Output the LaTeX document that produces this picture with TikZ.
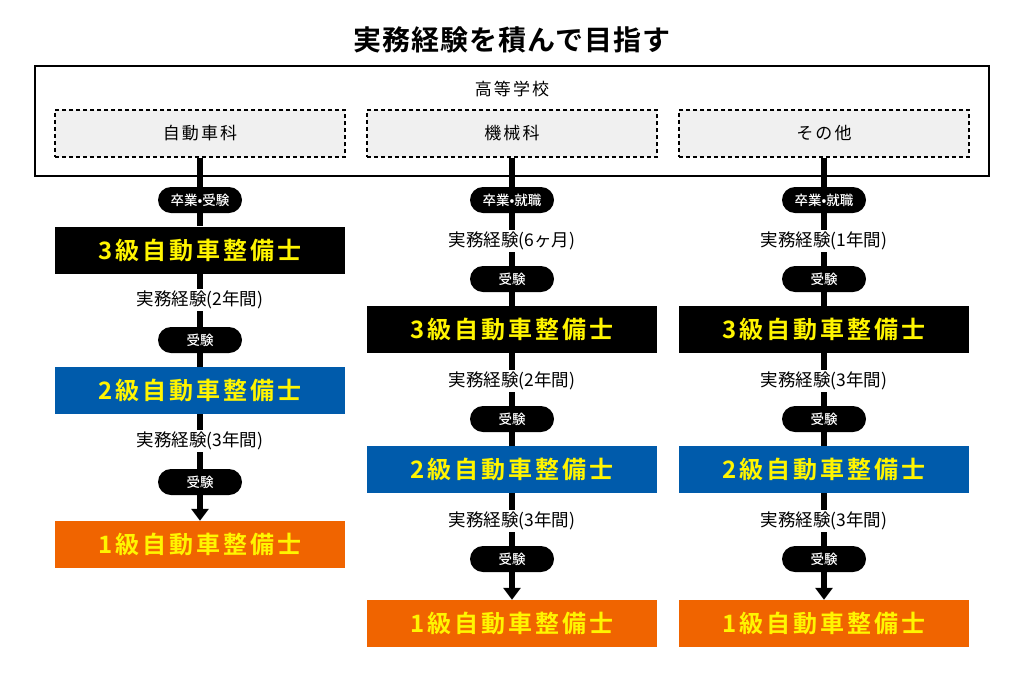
\documentclass[tikz,border=0pt]{standalone}
\usepackage{fontspec}
\setmainfont{Noto Sans CJK JP}
\newfontfamily\boxfont{Noto Sans CJK JP Bold}[LetterSpace=12]
\newfontfamily\titlefont{Noto Sans CJK JP Bold}[LetterSpace=4]
\newfontfamily\spfont{Noto Sans CJK JP}[LetterSpace=12]
\newfontfamily\pillfont{Noto Sans CJK JP Medium}
\usetikzlibrary{arrows.meta}
\definecolor{certblue}{HTML}{005BAB}
\definecolor{certorange}{HTML}{F06400}
\definecolor{certyellow}{HTML}{FFF500}
\definecolor{lightgray}{HTML}{F0F0F0}
\tikzset{
  pill/.style={fill=black, text=white, rounded corners=13pt, minimum width=84pt, minimum height=26pt, inner sep=0pt, font=\pillfont\fontsize{13.5}{13.5}\selectfont},
  certbox/.style={minimum width=290pt, minimum height=47pt, inner sep=0pt, text=certyellow, font=\boxfont\fontsize{24}{24}\selectfont},
  lv3/.style={certbox, fill=black},
  lv2/.style={certbox, fill=certblue},
  lv1/.style={certbox, fill=certorange},
  exper/.style={inner sep=2pt, font=\fontsize{17.5}{18}\selectfont},
  course/.style={draw=black, fill=lightgray, line width=1.5pt, dash pattern=on 4pt off 3pt, minimum width=290pt, minimum height=47pt, inner sep=0pt, font=\spfont\fontsize{17}{17}\selectfont},
  conn/.style={line width=6pt, black},
  arr/.style={conn, -{Triangle[width=17pt,length=12pt]}}
}
\begin{document}
\begin{tikzpicture}[x=1pt,y=-1pt]
\useasboundingbox (0,0) rectangle (1024,683);
\node[font=\titlefont\fontsize{28}{28}\selectfont] (title) at (512,40) {実務経験を積んで目指す};
\node[draw=black, line width=2pt, minimum width=954pt, minimum height=110pt, inner sep=0pt] (school) at (512,121) {};
\node[font=\spfont\fontsize{17}{17}\selectfont] (schoollbl) at (512,89) {高等学校};
\node[course] (c1) at (200,133.5) {自動車科};
\node[course] (c2) at (512,133.5) {機械科};
\node[course] (c3) at (824,133.5) {その他};

% column 1
\node[pill] (a1) at (200,200) {卒業•受験};
\node[lv3] (a2) at (200,250) {3級自動車整備士};
\node[exper] (a3) at (200,300) {実務経験(2年間)};
\node[pill] (a4) at (200,340) {受験};
\node[lv2] (a5) at (200,390.5) {2級自動車整備士};
\node[exper] (a6) at (200,441) {実務経験(3年間)};
\node[pill] (a7) at (200,482) {受験};
\node[lv1] (a8) at (200,544.5) {1級自動車整備士};

% column 2
\node[pill] (b1) at (512,200) {卒業•就職};
\node[exper] (b2) at (512,241) {実務経験(6ヶ月)};
\node[pill] (b3) at (512,279) {受験};
\node[lv3] (b4) at (512,329.5) {3級自動車整備士};
\node[exper] (b5) at (512,381) {実務経験(2年間)};
\node[pill] (b6) at (512,419) {受験};
\node[lv2] (b7) at (512,469.5) {2級自動車整備士};
\node[exper] (b8) at (512,521) {実務経験(3年間)};
\node[pill] (b9) at (512,559) {受験};
\node[lv1] (b10) at (512,623.5) {1級自動車整備士};

% column 3
\node[pill] (d1) at (824,200) {卒業•就職};
\node[exper] (d2) at (824,241) {実務経験(1年間)};
\node[pill] (d3) at (824,279) {受験};
\node[lv3] (d4) at (824,329.5) {3級自動車整備士};
\node[exper] (d5) at (824,381) {実務経験(3年間)};
\node[pill] (d6) at (824,419) {受験};
\node[lv2] (d7) at (824,469.5) {2級自動車整備士};
\node[exper] (d8) at (824,521) {実務経験(3年間)};
\node[pill] (d9) at (824,559) {受験};
\node[lv1] (d10) at (824,623.5) {1級自動車整備士};

% connectors
\draw[conn] (c1.south) -- (a1.north);
\draw[conn] (a1.south) -- (a2.north);
\draw[conn] (a2.south) -- (a3.north);
\draw[conn] (a3.south) -- (a4.north);
\draw[conn] (a4.south) -- (a5.north);
\draw[conn] (a5.south) -- (a6.north);
\draw[conn] (a6.south) -- (a7.north);
\draw[arr] (a7.south) -- (a8.north);

\draw[conn] (c2.south) -- (b1.north);
\draw[conn] (b1.south) -- (b2.north);
\draw[conn] (b2.south) -- (b3.north);
\draw[conn] (b3.south) -- (b4.north);
\draw[conn] (b4.south) -- (b5.north);
\draw[conn] (b5.south) -- (b6.north);
\draw[conn] (b6.south) -- (b7.north);
\draw[conn] (b7.south) -- (b8.north);
\draw[conn] (b8.south) -- (b9.north);
\draw[arr] (b9.south) -- (b10.north);

\draw[conn] (c3.south) -- (d1.north);
\draw[conn] (d1.south) -- (d2.north);
\draw[conn] (d2.south) -- (d3.north);
\draw[conn] (d3.south) -- (d4.north);
\draw[conn] (d4.south) -- (d5.north);
\draw[conn] (d5.south) -- (d6.north);
\draw[conn] (d6.south) -- (d7.north);
\draw[conn] (d7.south) -- (d8.north);
\draw[conn] (d8.south) -- (d9.north);
\draw[arr] (d9.south) -- (d10.north);
\end{tikzpicture}
\end{document}
